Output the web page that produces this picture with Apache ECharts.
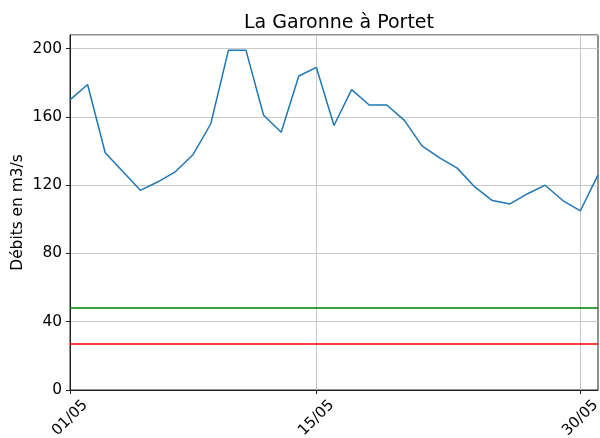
<!DOCTYPE html>
<html>
<head>
<meta charset="utf-8">
<script src="https://cdn.jsdelivr.net/npm/echarts@6/dist/echarts.min.js"></script>
<style>
	html, body { margin: 0; padding: 0; background: #fff; }
	#chart { width: 600px; height: 438px; }
</style>
</head>
<body>
<div id="chart"></div>
<script>
"use strict";

var dates = ['01/05', '02/05', '03/05', '04/05', '05/05', '06/05', '07/05', '08/05', '09/05', '10/05',
	'11/05', '12/05', '13/05', '14/05', '15/05', '16/05', '17/05', '18/05', '19/05', '20/05',
	'21/05', '22/05', '23/05', '24/05', '25/05', '26/05', '27/05', '28/05', '29/05', '30/05', '31/05'];
var debits = [170, 179, 139, 128, 117, 122, 128, 138, 156, 199,
	199, 161, 151, 184, 189, 155, 176, 167, 167, 158,
	143, 136, 130, 119, 111, 109, 115, 120, 111, 105, 126];
var shownTicks = ['01/05', '15/05', '30/05'];
var yTicks = [0, 40, 80, 120, 160, 200];
var seuilVert = 48;
var seuilRouge = 27;

var FONT = 'DejaVu Sans';
var GRID_COLOR = '#c8c8c8';

function isShown(index, value) {
	return shownTicks.indexOf(dates[index]) >= 0;
}

var chart = echarts.init(document.getElementById('chart'));

chart.setOption({
	animation: false,
	title: {
		text: 'La Garonne à Portet',
		left: 334,
		textAlign: 'center',
		top: 9,
		textStyle: { fontFamily: FONT, fontSize: 19, fontWeight: 'normal', color: '#000' }
	},
	grid: {
		left: 70,
		right: 2,
		top: 35,
		bottom: 48,
		outerBoundsMode: 'none',
		containLabel: false,
		show: true,
		borderColor: '#222',
		borderWidth: 1,
		backgroundColor: 'transparent'
	},
	xAxis: {
		type: 'category',
		data: dates,
		boundaryGap: false,
		axisLine: { lineStyle: { color: '#222', width: 1 } },
		axisTick: { show: true, length: 4, interval: isShown, lineStyle: { color: '#222' } },
		axisLabel: {
			interval: isShown,
			rotate: 45,
			align: 'center',
			verticalAlign: 'middle',
			margin: 28,
			hideOverlap: false,
			fontFamily: FONT,
			fontSize: 15,
			color: '#000'
		},
		splitLine: { show: true, interval: isShown, lineStyle: { color: GRID_COLOR, width: 1 } }
	},
	yAxis: {
		type: 'value',
		min: yTicks[0],
		max: 208,
		interval: yTicks[1] - yTicks[0],
		name: 'Débits en m3/s',
		nameLocation: 'middle',
		nameGap: 45,
		nameMoveOverlap: false,
		nameTextStyle: { fontFamily: FONT, fontSize: 15.4, color: '#000' },
		axisLine: { show: true, lineStyle: { color: '#222', width: 1 } },
		axisTick: { show: true, length: 4, lineStyle: { color: '#222' } },
		axisLabel: {
			margin: 8,
			showMaxLabel: false,
			fontFamily: FONT,
			fontSize: 15.4,
			color: '#000'
		},
		splitLine: { show: true, lineStyle: { color: GRID_COLOR, width: 1 } }
	},
	series: [{
		name: 'Débit',
		type: 'line',
		data: debits,
		showSymbol: false,
		lineStyle: { color: '#1f77b4', width: 1.5 },
		markLine: {
			silent: true,
			symbol: 'none',
			label: { show: false },
			data: [
				{ yAxis: seuilVert, lineStyle: { color: '#008000', width: 1.5, type: 'solid' } },
				{ yAxis: seuilRouge, lineStyle: { color: '#ff0000', width: 1.5, type: 'solid' } }
			]
		}
	}]
});
</script>
</body>
</html>
